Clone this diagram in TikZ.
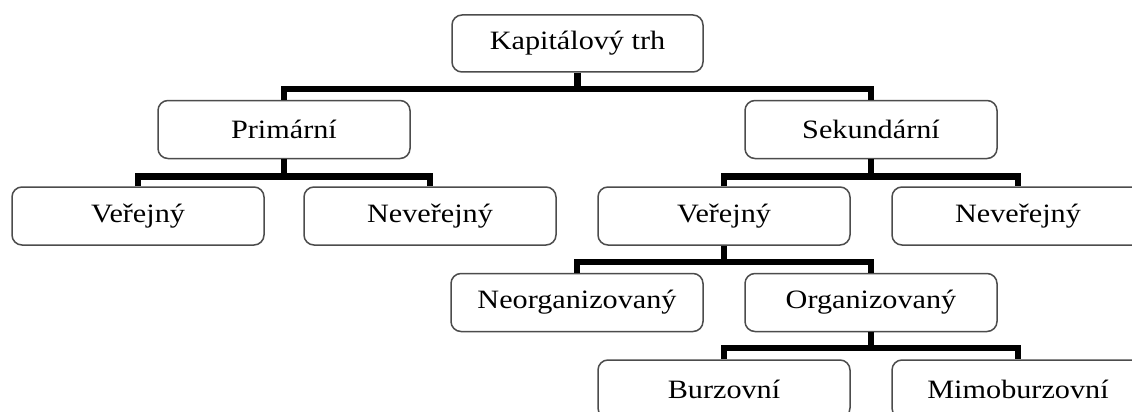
\documentclass[tikz,border=0pt]{standalone}
\usepackage{fontspec}
\setmainfont[FakeStretch=1.14]{Liberation Serif}
\begin{document}
\begin{tikzpicture}[x=1pt,y=-1pt,
  box/.style={draw=black!70, line width=1.5pt, rounded corners=10pt, fill=white,
    minimum width=252pt, minimum height=58pt, inner sep=0pt,
    font=\fontsize{26.5}{30}\selectfont},
  conn/.style={draw=black, line width=6.5pt, line join=miter, line cap=butt}]
\useasboundingbox (0,0) rectangle (1132,412);
\clip (0,0) rectangle (1132,412);
\fill[white] (0,0) rectangle (1132,412);
\node[box, minimum width=251pt, minimum height=57pt] (top) at (577.5,43.5) {Kapitálový trh};
\node[box] (prim) at (284,129.5) {Primární};
\node[box] (sek) at (871,129.5) {Sekundární};
\node[box] (v1) at (138,216) {Veřejný};
\node[box] (n1) at (430,216) {Neveřejný};
\node[box] (v2) at (724,216) {Veřejný};
\node[box] (n2) at (1018,216) {Neveřejný};
\node[box] (neo) at (577,302.5) {Neorganizovaný};
\node[box] (org) at (871,302.5) {Organizovaný};
\node[box] (bur) at (724,389) {Burzovní};
\node[box] (mimo) at (1018,389) {Mimoburzovní};
% connectors
\draw[conn] (top.south) -- ++(0,16) coordinate (b1);
\draw[conn] (prim.north) |- (b1) -| (sek.north);
\draw[conn] (prim.south) -- ++(0,17) coordinate (b2);
\draw[conn] (v1.north) |- (b2) -| (n1.north);
\draw[conn] (sek.south) -- ++(0,17) coordinate (b3);
\draw[conn] (v2.north) |- (b3) -| (n2.north);
\draw[conn] (v2.south) -- ++(0,16) coordinate (b4);
\draw[conn] (neo.north) |- (b4) -| (org.north);
\draw[conn] (org.south) -- ++(0,15.5) coordinate (b5);
\draw[conn] (bur.north) |- (b5) -| (mimo.north);
\end{tikzpicture}
\end{document}
